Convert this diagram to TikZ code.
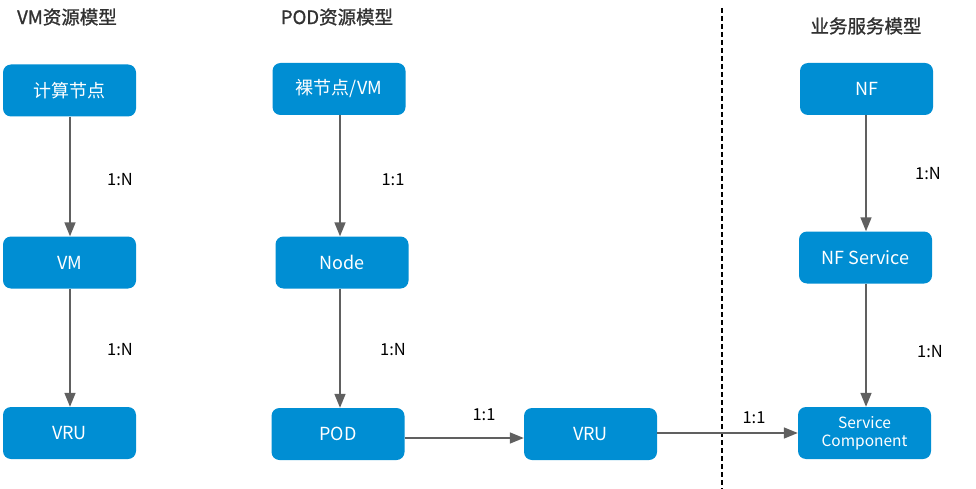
\documentclass[tikz,border=0pt]{standalone}
\usepackage{fontspec}
\setmainfont{Noto Sans CJK SC}
\newfontfamily\titlefont[FakeBold=1.2]{Noto Sans CJK SC}
\usetikzlibrary{arrows.meta}
\definecolor{boxblue}{RGB}{0,142,211}
\definecolor{linegray}{RGB}{96,96,96}
\definecolor{titlegray}{RGB}{50,50,50}
\tikzset{
  box/.style={rectangle, rounded corners=8pt, fill=boxblue, text=white, minimum width=133pt, minimum height=52pt, inner sep=0pt, font=\fontsize{18}{19}\selectfont},
  conn/.style={draw=linegray, line width=1.6pt, -{Triangle[length=14pt, width=11pt]}},
  lbl/.style={font=\fontsize{16.5}{18}\selectfont, text=black},
  ttl/.style={font=\titlefont\fontsize{18.5}{20}\selectfont, text=titlegray}
}
\begin{document}
\begin{tikzpicture}[x=1pt,y=-1pt]
\useasboundingbox (0,0) rectangle (976,489);
% titles
\node[ttl] (t1) at (67,17) {VM资源模型};
\node[ttl] (t2) at (337,17) {POD资源模型};
\node[ttl] (t3) at (866,26) {业务服务模型};
% dashed separator
\coordinate (d1) at (722,8);
\coordinate (d2) at (722,489);
\draw[black, line width=1.1pt, dash pattern=on 5pt off 3pt] (d1) -- (d2);
% boxes
\node[box] (calc) at (69.5,90.5) {计算节点};
\node[box] (vm) at (69.5,262.5) {VM};
\node[box] (vru1) at (69.5,433) {VRU};
\node[box] (bare) at (339,89) {裸节点/VM};
\node[box] (node) at (342,262.5) {Node};
\node[box] (pod) at (338,434) {POD};
\node[box] (vru2) at (590.5,434) {VRU};
\node[box] (nf) at (866.5,89) {NF};
\node[box] (nfs) at (865.5,257.5) {NF Service};
\node[box, align=center, font=\fontsize{15.5}{18}\selectfont] (sc) at (864.5,433) {Service\\Component};
% connectors
\draw[conn] (calc.south -| 70,0) -- (vm.north -| 70,0);
\draw[conn] (vm.south -| 70,0) -- (vru1.north -| 70,0);
\draw[conn] (bare.south -| 340,0) -- (node.north -| 340,0);
\draw[conn] (node.south -| 340,0) -- (pod.north -| 340,0);
\draw[conn] (nf.south -| 866,0) -- (nfs.north -| 866,0);
\draw[conn] (nfs.south -| 866,0) -- (sc.north -| 866,0);
\draw[conn] (pod.east |- 0,438) -- (vru2.west |- 0,438);
\draw[conn] (vru2.east |- 0,433) -- (sc.west |- 0,433);
% labels
\node[lbl] (l1) at (120,180) {1:N};
\node[lbl] (l2) at (120,350) {1:N};
\node[lbl] (l3) at (393,180) {1:1};
\node[lbl] (l4) at (393,350) {1:N};
\node[lbl] (l5) at (928,174) {1:N};
\node[lbl] (l6) at (930,352) {1:N};
\node[lbl] (l7) at (484,415) {1:1};
\node[lbl] (l8) at (754,418) {1:1};
\end{tikzpicture}
\end{document}
